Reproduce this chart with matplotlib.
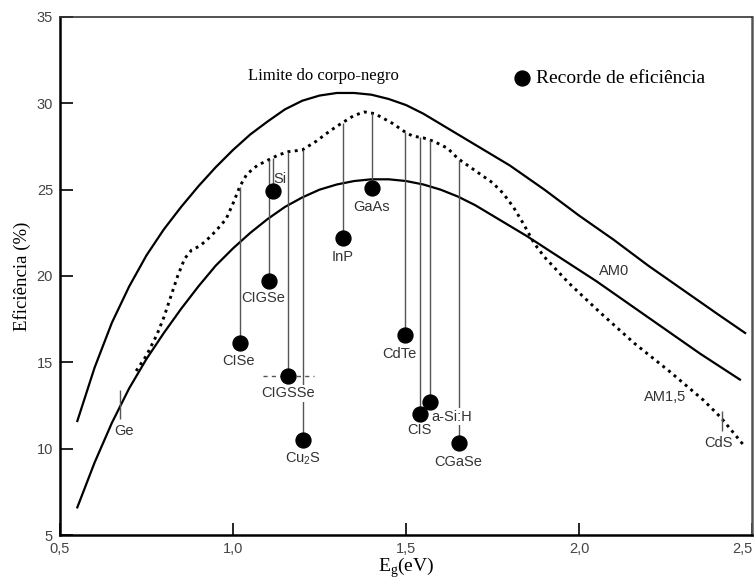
import numpy as np
import matplotlib
matplotlib.use("Agg")
import matplotlib.pyplot as plt

plt.rcParams['font.family'] = ['Liberation Sans', 'DejaVu Sans']
plt.rcParams['mathtext.fontset'] = 'custom'
plt.rcParams['mathtext.rm'] = 'Liberation Serif'
plt.rcParams['mathtext.sf'] = 'Liberation Sans'

# limite do corpo-negro
bb_E = [0.55, 0.60, 0.65, 0.70, 0.75, 0.80, 0.85, 0.90, 0.95, 1.00, 1.05, 1.10,
        1.15, 1.20, 1.25, 1.30, 1.35, 1.40, 1.45, 1.50, 1.55, 1.60, 1.65, 1.70,
        1.75, 1.80, 1.90, 2.00, 2.10, 2.20, 2.30, 2.40, 2.48]
bb_eta = [11.6, 14.7, 17.3, 19.4, 21.2, 22.7, 24.0, 25.2, 26.3, 27.3, 28.2, 28.95,
          29.65, 30.15, 30.45, 30.6, 30.6, 30.5, 30.25, 29.9, 29.4, 28.8, 28.2, 27.6,
          27.0, 26.4, 25.0, 23.5, 22.1, 20.6, 19.2, 17.8, 16.7]

# AM0
am0_E = [0.55, 0.60, 0.65, 0.70, 0.75, 0.80, 0.85, 0.90, 0.95, 1.00, 1.05, 1.10,
         1.15, 1.20, 1.25, 1.30, 1.35, 1.40, 1.45, 1.50, 1.55, 1.60, 1.65, 1.70,
         1.75, 1.80, 1.85, 1.95, 2.05, 2.15, 2.25, 2.35, 2.465]
am0_eta = [6.6, 9.2, 11.5, 13.5, 15.2, 16.7, 18.1, 19.4, 20.6, 21.6, 22.5, 23.3,
           24.0, 24.55, 25.0, 25.3, 25.5, 25.6, 25.6, 25.5, 25.3, 25.0, 24.6, 24.1,
           23.5, 22.9, 22.3, 21.0, 19.7, 18.3, 16.9, 15.5, 14.0]

# AM1,5
am15_E = [0.72, 0.75, 0.78, 0.80, 0.82, 0.84, 0.86, 0.88, 0.90, 0.92, 0.95, 0.98,
          1.00, 1.02, 1.04, 1.07, 1.10, 1.13, 1.16, 1.20, 1.24, 1.28, 1.31, 1.35,
          1.38, 1.41, 1.46, 1.50, 1.52, 1.55, 1.58, 1.62, 1.65, 1.70, 1.75, 1.78,
          1.81, 1.84, 1.87, 1.90, 1.97, 2.06, 2.16, 2.26, 2.36, 2.41, 2.48]
am15_eta = [14.5, 15.4, 16.6, 17.6, 18.8, 20.0, 21.0, 21.5, 21.7, 22.0, 22.6, 23.3,
            24.2, 25.2, 25.9, 26.4, 26.7, 27.0, 27.2, 27.3, 27.8, 28.4, 28.8, 29.3,
            29.5, 29.4, 28.85, 28.3, 28.1, 28.0, 27.8, 27.4, 26.8, 26.1, 25.4, 24.8,
            24.0, 23.0, 21.9, 21.1, 19.6, 17.9, 16.1, 14.5, 12.8, 11.8, 10.1]

# recordes de eficiencia
cells = ['CISe', 'CIGSe', 'Si', 'CIGSSe', 'Cu$_{\\mathsf{2}}$S', 'InP', 'GaAs',
         'CdTe', 'CIS', 'a-Si:H', 'CGaSe']
cell_E = [1.019, 1.104, 1.115, 1.158, 1.201, 1.317, 1.401, 1.497, 1.540, 1.570, 1.654]
cell_eta = [16.1, 19.7, 24.9, 14.2, 10.5, 22.2, 25.1, 16.6, 12.0, 12.7, 10.3]
label_E = [1.016, 1.088, 1.117, 1.158, 1.201, 1.317, 1.399, 1.480, 1.540, 1.574, 1.651]
label_eta = [15.1, 18.7, 25.6, 13.2, 9.45, 21.1, 24.0, 15.5, 11.1, 11.85, 9.2]
label_ha = ['center', 'center', 'left', 'center', 'center', 'center', 'center',
            'center', 'center', 'left', 'center']

fig = plt.figure(figsize=(7.55, 5.84), dpi=100)
ax = fig.add_axes([0.0795, 0.0839, 0.9166, 0.887])

ax.plot(bb_E, bb_eta, color='black', lw=1.6)
ax.plot(am0_E, am0_eta, color='black', lw=1.6)
ax.plot(am15_E, am15_eta, color='black', lw=2.1, linestyle=(0, (1, 1.5)))

tops = np.interp(cell_E, am15_E, am15_eta)
ax.vlines(cell_E, cell_eta, tops, color='#555555', lw=1.0, zorder=2)
ax.hlines(14.2, 1.088, 1.233, color='#555555', lw=1.0, linestyles=(0, (3, 3)))
ax.scatter(cell_E, cell_eta, s=115, color='black', zorder=4,
           label='Recorde de eficiência')

for name, x, y, ha in zip(cells, label_E, label_eta, label_ha):
    t = ax.text(x, y, name, ha=ha, va='center', fontsize=10.5, color='#333333', zorder=3)
    if name in ('CIGSSe', 'a-Si:H'):
        t.set_bbox(dict(facecolor='white', edgecolor='none', pad=1.0))

# Ge e CdS
ax.vlines([0.674, 2.413], [11.7, 11.0], [13.4, 12.2], color='#555555', lw=1.0)
ax.text(0.686, 11.0, 'Ge', ha='center', va='center', fontsize=10.5, color='#333333')
ax.text(2.404, 10.3, 'CdS', ha='center', va='center', fontsize=10.5, color='#333333')
ax.text(2.10, 20.3, 'AM0', ha='center', va='center', fontsize=10.5, color='#333333')
ax.text(2.248, 13.0, 'AM1,5', ha='center', va='center', fontsize=10.5, color='#333333')

ax.text(1.042, 31.6, 'Limite do corpo-negro', ha='left', va='center',
        fontsize=12, family='Liberation Serif')

ax.legend(loc='center left', bbox_to_anchor=(0.656, 0.882), frameon=False,
          borderpad=0, borderaxespad=0, handlelength=0.8, handletextpad=0.35,
          prop={'family': 'Liberation Serif', 'size': 14})

ax.set_xlim(0.5, 2.5)
ax.set_ylim(5, 35)
ax.set_xticks([0.5, 1.0, 1.5, 2.0, 2.5])
ax.set_xticklabels(['0,5', '1,0', '1,5', '2,0', '2,5'])
ax.get_xticklabels()[-1].set_horizontalalignment('right')
ax.set_yticks([5, 10, 15, 20, 25, 30, 35])
ax.tick_params(direction='in', length=9, width=1.2, labelsize=10.5,
               labelcolor='#444444', pad=5)

ax.set_xlabel('E$_{\\mathrm{g}}$(eV)', family='Liberation Serif', fontsize=14,
              labelpad=0)
ax.set_ylabel('Eficiência (%)', family='Liberation Serif', fontsize=13.5,
              labelpad=4)

for side in ['left', 'bottom']:
    ax.spines[side].set_linewidth(1.8)
ax.spines['top'].set_linewidth(1.2)
ax.spines['top'].set_color('#333333')
ax.spines['right'].set_linewidth(1.8)
ax.spines['right'].set_color('#555555')

fig.savefig('out.png', dpi=100)
